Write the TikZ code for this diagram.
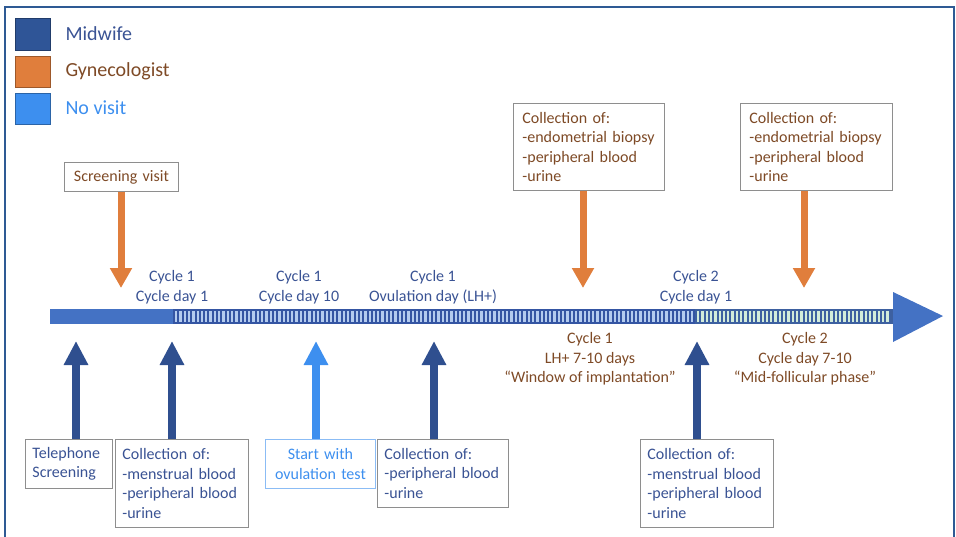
\documentclass[tikz,border=0pt]{standalone}
\usepackage{fontspec}
\setmainfont{Carlito}
\usetikzlibrary{arrows.meta}
\definecolor{framec}{HTML}{2E5A94}
\definecolor{midc}{HTML}{2F5597}
\definecolor{midtxt}{HTML}{3A5394}
\definecolor{gync}{HTML}{E07E3C}
\definecolor{gyntxt}{HTML}{7E4A26}
\definecolor{novc}{HTML}{3D8FEF}
\definecolor{barblue}{HTML}{4472C4}
\definecolor{stripedark}{HTML}{3455A3}
\definecolor{stripelight}{HTML}{B3CBEF}
\definecolor{stripedarkb}{HTML}{3D60A0}
\definecolor{stripelightb}{HTML}{D2EBDA}
\definecolor{boxgray}{HTML}{8E8E8E}
\definecolor{upblue}{HTML}{2F4F8F}
\begin{document}
\begin{tikzpicture}[x=1pt,y=-1pt,font=\fontsize{16}{19.5}\selectfont,
  legtxt/.style={anchor=west,font=\fontsize{20}{24}\selectfont},
  legsq/.style={line width=0.6pt},
  box/.style={draw=boxgray,fill=white,line width=0.9pt,anchor=north west,inner ysep=0pt,align=left},
  midtext/.style={text=midtxt},
  gyntext/.style={text=gyntxt},
  orarrow/.style={draw=gync,line width=7pt,-{Triangle[width=21pt,length=20pt]}},
  upbarrow/.style={draw=upblue,line width=8pt,-{Triangle[width=23pt,length=24pt]}},
  uplarrow/.style={draw=novc,line width=8pt,-{Triangle[width=23pt,length=24pt]}}]
\useasboundingbox (0,0) rectangle (956,536);
% frame
\draw[framec,line width=2pt] (5,537) -- (5,7) -- (954,7) -- (954,537);
% legend
\fill[midc,draw=midc!70!black,legsq] (15,18) rectangle (50,50);
\fill[gync,draw=gync!70!black,legsq] (15,56) rectangle (50,87);
\fill[novc,draw=novc!70!black,legsq] (15,93) rectangle (50,124);
\node[legtxt,text=midtxt] (lmid) at (62,34) {Midwife};
\node[legtxt,text=gyntxt] (lgyn) at (62,71) {Gynecologist};
\node[legtxt,text=novc] (lnov) at (62,108) {No visit};
% timeline bar
\fill[barblue] (50,309) rectangle (173,324);
\fill[stripedark] (173,309) rectangle (695,324);
\foreach \x in {175,179.3,...,692} {\fill[stripelight] (\x,311) rectangle ++(2.3,11);}
\fill[stripedarkb] (695,309) rectangle (893,324);
\foreach \x in {697,701.3,...,890} {\fill[stripelightb] (\x,311) rectangle ++(2.3,11);}
\fill[barblue] (893,292) -- (943,316) -- (893,342) -- cycle;
% labels above the bar
\node[midtext,align=center] (l1) at (172,287) {Cycle 1\\Cycle day 1};
\node[midtext,align=center] (l2) at (299,287) {Cycle 1\\Cycle day 10};
\node[midtext,align=center] (l3) at (433,287) {Cycle 1\\Ovulation day (LH+)};
\node[midtext,align=center] (l4) at (696,287) {Cycle 2\\Cycle day 1};
% labels below the bar
\node[gyntext,align=center] (l5) at (590,359) {Cycle 1\\LH+ 7-10 days\\``Window of implantation''};
\node[gyntext,align=center] (l6) at (805,359) {Cycle 2\\Cycle day 7-10\\``Mid-follicular phase''};
% top boxes
\node[box,gyntext,align=center,inner xsep=0pt,text width=114pt,minimum height=29pt] (sv) at (64,162) {Screening visit};
\node[box,gyntext,inner xsep=9pt,text width=133pt,minimum height=87pt] (tb1) at (513,103) {Collection of:\\-endometrial biopsy\\-peripheral blood\\-urine};
\node[box,gyntext,inner xsep=9pt,text width=134pt,minimum height=87pt] (tb2) at (740,103) {Collection of:\\-endometrial biopsy\\-peripheral blood\\-urine};
% bottom boxes
\node[box,midtext,inner xsep=7pt,text width=73pt,minimum height=49pt] (tel) at (25,439) {Telephone\\Screening};
\node[box,midtext,inner xsep=7pt,text width=119pt,minimum height=88pt] (bc1) at (115,439) {Collection of:\\-menstrual blood\\-peripheral blood\\-urine};
\node[box,draw=novc!60,text=novc,align=center,inner xsep=0pt,text width=110pt,minimum height=49pt] (ovu) at (265,439) {Start with\\ovulation test};
\node[box,midtext,inner xsep=7pt,text width=117pt,minimum height=68pt] (bc3) at (377,439) {Collection of:\\-peripheral blood\\-urine};
\node[box,midtext,inner xsep=7pt,text width=119pt,minimum height=88pt] (bc5) at (640,439) {Collection of:\\-menstrual blood\\-peripheral blood\\-urine};
% arrow end points
\coordinate (d1) at (121,288);
\coordinate (d2) at (583,288);
\coordinate (d3) at (804,288);
\coordinate (u1) at (76,341);
\coordinate (u2) at (172,341);
\coordinate (u3) at (316,341);
\coordinate (u4) at (434,341);
\coordinate (u5) at (697,341);
% down arrows
\draw[orarrow] (d1 |- sv.south) -- (d1);
\draw[orarrow] (d2 |- tb1.south) -- (d2);
\draw[orarrow] (d3 |- tb2.south) -- (d3);
% up arrows
\draw[upbarrow] (u1 |- tel.north) -- (u1);
\draw[upbarrow] (u2 |- bc1.north) -- (u2);
\draw[uplarrow] (u3 |- ovu.north) -- (u3);
\draw[upbarrow] (u4 |- bc3.north) -- (u4);
\draw[upbarrow] (u5 |- bc5.north) -- (u5);
\end{tikzpicture}
\end{document}
